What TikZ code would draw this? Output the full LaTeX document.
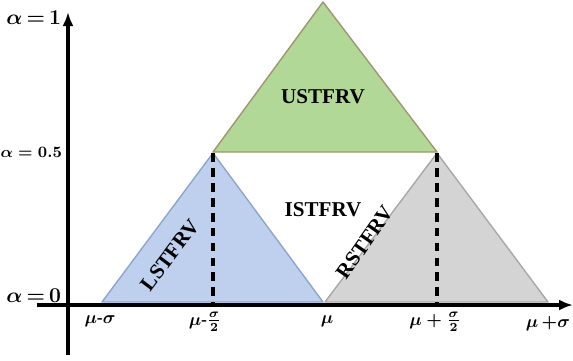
\documentclass[tikz,border=0pt]{standalone}
\usepackage{amsmath,amssymb}
\usepackage{fontspec}
\setmainfont{Liberation Serif}
\usetikzlibrary{positioning,arrows.meta}

\definecolor{lowfill}{RGB}{190,208,238}
\definecolor{lowedge}{RGB}{140,165,205}
\definecolor{upfill}{RGB}{178,216,152}
\definecolor{upedge}{RGB}{160,150,110}
\definecolor{rightfill}{RGB}{212,212,212}
\definecolor{rightedge}{RGB}{168,168,168}

\begin{document}
\begin{tikzpicture}[
    x=0.02cm, y=0.02cm,
    font=\bfseries\boldmath,
    axis/.style={line width=2pt, -{Latex[length=2.8mm,width=2.2mm]}},
    tri/.style={line width=0.8pt, line join=round},
    guide/.style={line width=1.8pt, dash pattern=on 5pt off 3.5pt},
    lbl/.style={inner sep=1pt},
    tag/.style={font=\large\bfseries}
  ]
  \useasboundingbox (0,0) rectangle (573,360);

  % triangles
  \draw[tri, fill=lowfill, draw=lowedge]     (102,58) -- (213,207) -- (323,58) -- cycle;
  \draw[tri, fill=upfill, draw=upedge]       (213,208) -- (437,208) -- (323,358) -- cycle;
  \draw[tri, fill=rightfill, draw=rightedge] (325,58) -- (437,207) -- (548,58) -- cycle;

  % named points on the axes
  \coordinate (ytop)  at (68,348);
  \coordinate (ybot)  at (68,5);
  \coordinate (xleft) at (37,55);
  \coordinate (xright) at (573,55);
  \coordinate (lowtop)  at (213,207);
  \coordinate (lowfoot) at (213,55);
  \coordinate (righttop)  at (437,207);
  \coordinate (rightfoot) at (437,55);

  \draw[guide] (lowtop) -- (lowfoot);
  \draw[guide] (righttop) -- (rightfoot);

  \draw[axis] (ybot) -- (ytop);
  \draw[axis] (xleft) -- (xright);

  % level labels
  \node[lbl, anchor=east, font=\large\bfseries\boldmath] (aone)  at (63,342) {$\alpha\,{=}\,1$};
  \node[lbl, anchor=east, font=\small\bfseries\boldmath] (ahalf) at (64,208) {$\alpha = 0.5$};
  \node[lbl, anchor=east, font=\large\bfseries\boldmath] (azero) at (63,64)  {$\alpha\,{=}\,0$};

  % abscissa labels
  \node[lbl, anchor=north] (msig)  at (100,46) {$\mu$-$\sigma$};
  \node[lbl, anchor=north] (mhalf) at (205,50) {$\mu$-$\frac{\sigma}{2}$};
  \node[lbl, anchor=north] (mu)    at (327,46) {$\mu$};
  \node[lbl, anchor=north] (phalf) at (435,50) {$\mu + \frac{\sigma}{2}$};
  \node[lbl, anchor=north] (psig)  at (548,46) {$\mu\,{+}\sigma$};

  % region names
  \node[tag] (up)    at (323,263) {USTFRV};
  \node[tag] (inner) at (323,150) {ISTFRV};
  \node[tag, rotate=53] (low)   at (170,105) {LSTFRV};
  \node[tag, rotate=55] (right) at (365,118) {RSTFRV};
\end{tikzpicture}
\end{document}
